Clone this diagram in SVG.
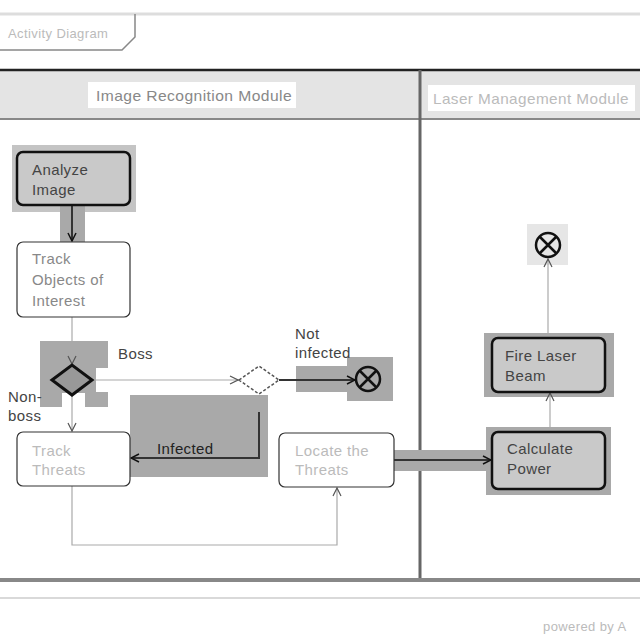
<svg xmlns="http://www.w3.org/2000/svg" width="640" height="640" viewBox="0 0 640 640">
<defs>
<style>
text{font-family:"Liberation Sans",Arial,sans-serif;font-size:15px;letter-spacing:0.4px;fill:#444}
.faint{fill:#bbb}
.grey{fill:#888}
.hl{fill:#a9a9a9}
.hl2{fill:#c4c4c4}
.act{fill:#c9c9c9;stroke:#111;stroke-width:2.5}
.actw{fill:#fff;stroke:#333;stroke-width:1.2}
.edge{fill:none;stroke:#aaa;stroke-width:1.2}
.edgeD{fill:none;stroke:#333;stroke-width:2}
.fin{fill:none;stroke:#111;stroke-width:2.5}
</style>
<marker id="arr" markerWidth="10" markerHeight="10" refX="9" refY="5" orient="auto" markerUnits="userSpaceOnUse">
<path d="M1,1 L9,5 L1,9" fill="none" stroke="#555" stroke-width="1.2"/>
</marker>
<marker id="arrD" markerWidth="10" markerHeight="10" refX="9" refY="5" orient="auto" markerUnits="userSpaceOnUse">
<path d="M1,1 L9,5 L1,9" fill="none" stroke="#111" stroke-width="1.5"/>
</marker>
</defs>
<rect width="640" height="640" fill="#fff"/>
<g id="frame">
<line x1="0" y1="14" x2="640" y2="14" stroke="#ddd" stroke-width="3"/>
<path d="M0,50 L122,50 L135,37 L135,14" fill="none" stroke="#888" stroke-width="1.5"/>
<text x="8" y="38" class="faint" style="font-size:13px">Activity Diagram</text>
<rect x="0" y="71" width="640" height="48" fill="#e4e4e4"/>
<line x1="0" y1="70" x2="640" y2="70" stroke="#222" stroke-width="2.5"/>
<line x1="0" y1="119" x2="640" y2="119" stroke="#888" stroke-width="2"/>
<line x1="420" y1="70" x2="420" y2="580" stroke="#666" stroke-width="3"/>
<line x1="0" y1="580" x2="640" y2="580" stroke="#888" stroke-width="4"/>
<line x1="0" y1="598" x2="640" y2="598" stroke="#ccc" stroke-width="1.5"/>
<rect x="88" y="82" width="208" height="26" fill="#fff"/>
<text x="96" y="101" class="grey" textLength="196" lengthAdjust="spacingAndGlyphs">Image Recognition Module</text>
<rect x="428" y="85" width="207" height="26" fill="#fff"/>
<text x="433" y="104" class="faint" textLength="196" lengthAdjust="spacingAndGlyphs">Laser Management Module</text>
<text x="543" y="631" class="faint" style="font-size:13px">powered by A</text>
</g>
<g id="highlights">
<rect x="12" y="145" width="124" height="67" class="hl2"/>
<rect x="60" y="206" width="25" height="36" class="hl"/>
<rect x="40" y="341" width="68" height="66" class="hl"/>
<rect x="96" y="368" width="12" height="24" fill="#fff"/>
<rect x="62" y="393" width="23" height="14" fill="#fff"/>
<rect x="130" y="395" width="138" height="82" class="hl"/>
<rect x="296" y="366" width="52" height="26" class="hl"/>
<rect x="347" y="357" width="46" height="44" class="hl"/>
<rect x="392" y="450" width="98" height="21" class="hl"/>
<rect x="486" y="427" width="125" height="68" class="hl"/>
<rect x="484" y="333" width="130" height="64" class="hl"/>
<rect x="527" y="224" width="41" height="41" fill="#e6e6e6"/>
</g>
<g id="connectors">
<line x1="72" y1="205" x2="72" y2="241" class="edgeD" marker-end="url(#arrD)"/>
<line x1="72" y1="317" x2="72" y2="364" class="edge" marker-end="url(#arr)"/>
<line x1="92" y1="380" x2="238" y2="380" class="edge" marker-end="url(#arr)"/>
<line x1="72" y1="395" x2="72" y2="431" class="edge" marker-end="url(#arr)"/>
<line x1="279" y1="380" x2="355" y2="380" class="edgeD" marker-end="url(#arrD)"/>
<path d="M259,412 L259,458 L131,458" class="edgeD" marker-end="url(#arrD)"/>
<path d="M72,486 L72,545 L337,545 L337,488" class="edge" marker-end="url(#arr)"/>
<line x1="394" y1="460" x2="491" y2="460" class="edgeD" marker-end="url(#arrD)"/>
<line x1="550" y1="432" x2="550" y2="393" class="edge" marker-end="url(#arr)"/>
<line x1="548" y1="338" x2="548" y2="259" class="edge" marker-end="url(#arr)"/>
<text x="118" y="359">Boss</text>
<text x="8" y="402">Non-</text>
<text x="8" y="421">boss</text>
<text x="295" y="339">Not</text>
<text x="295" y="358">infected</text>
<text x="157" y="454" style="fill:#222">Infected</text>
</g>
<g id="analyze-image">
<rect x="17" y="152" width="113" height="53" rx="6" class="act"/>
<text x="32" y="175">Analyze</text>
<text x="32" y="195">Image</text>
</g>
<g id="track-objects">
<rect x="17" y="242" width="113" height="75" rx="6" class="actw"/>
<text x="32" y="264" class="grey">Track</text>
<text x="32" y="285" class="grey">Objects of</text>
<text x="32" y="306" class="grey">Interest</text>
</g>
<g id="decision-boss">
<polygon points="52,380 72,365 92,380 72,395" fill="#999" stroke="#111" stroke-width="3"/>
</g>
<g id="decision-infected">
<polygon points="239,380 259,366 279,380 259,394" fill="#fff" stroke="#555" stroke-width="1.5" stroke-dasharray="3,2"/>
</g>
<g id="final-not-infected">
<circle cx="368" cy="379" r="12" class="fin"/>
<path d="M360,371 L376,387 M376,371 L360,387" class="fin"/>
</g>
<g id="track-threats">
<rect x="17" y="432" width="113" height="54" rx="6" class="actw"/>
<text x="32" y="456" class="faint">Track</text>
<text x="32" y="475" class="faint">Threats</text>
</g>
<g id="locate-threats">
<rect x="279" y="433" width="115" height="54" rx="6" class="actw"/>
<text x="295" y="456" class="faint">Locate the</text>
<text x="295" y="475" class="faint">Threats</text>
</g>
<g id="calculate-power">
<rect x="492" y="432" width="113" height="57" rx="6" class="act"/>
<text x="507" y="454">Calculate</text>
<text x="507" y="474">Power</text>
</g>
<g id="fire-laser-beam">
<rect x="492" y="338" width="113" height="54" rx="6" class="act"/>
<text x="505" y="361">Fire Laser</text>
<text x="505" y="381">Beam</text>
</g>
<g id="final-laser">
<circle cx="548" cy="245" r="12" class="fin"/>
<path d="M540,237 L556,253 M556,237 L540,253" class="fin"/>
</g>
</svg>
